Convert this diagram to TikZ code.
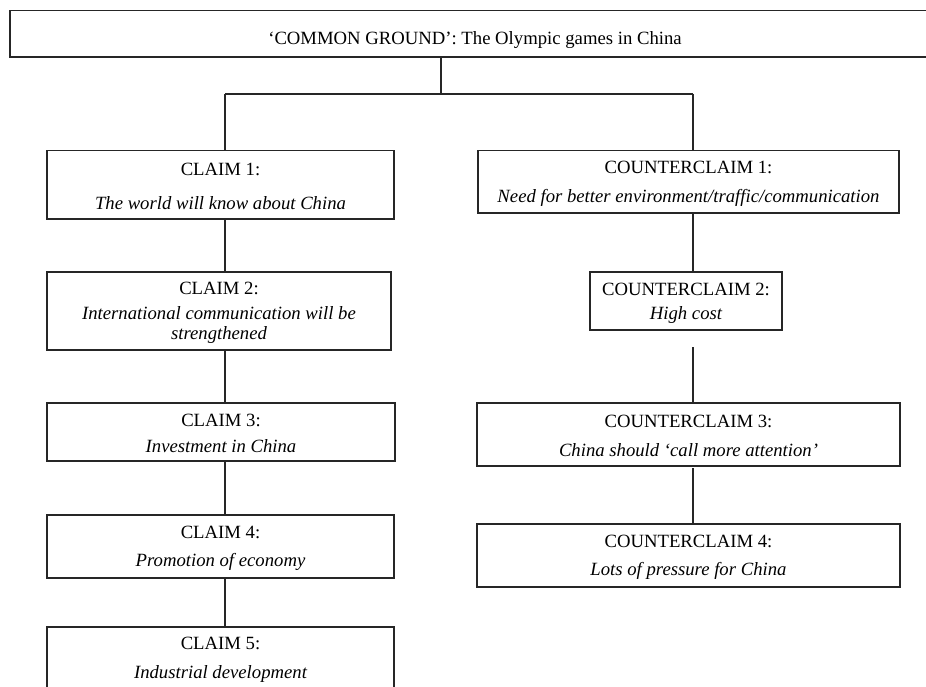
\documentclass[tikz,border=0pt]{standalone}
\usepackage{fontspec}
\setmainfont{Liberation Serif}
\newcommand\myupstrut{\rule{0pt}{16pt}}
\begin{document}
\begin{tikzpicture}[x=1pt,y=-1pt,
  box/.style={draw=black!85, line width=1.5pt, inner sep=0pt, align=center,
    font=\fontsize{18.7}{20}\selectfont},
  link/.style={draw=black!85, line width=1.5pt}]
\useasboundingbox (0,0) rectangle (926,687);
\clip (0,0) rectangle (926,687);
\fill[white] (0,0) rectangle (926,687);

% common ground
\node[box, minimum width=930pt, minimum height=46.5pt, text height=21pt, text depth=0pt] (top) at (475,33.75)
  {‘COMMON GROUND’: The Olympic games in China};

% claims
\node[box, minimum width=347pt, minimum height=68.5pt] (c1) at (220.5,184.75)
  {\myupstrut CLAIM 1:\\[14pt]\itshape The world will know about China};
\node[box, minimum width=344pt, minimum height=78pt] (c2) at (219,311)
  {\myupstrut CLAIM 2:\\[5pt]\itshape International communication will be\\\itshape strengthened};
\node[box, minimum width=348pt, minimum height=58pt] (c3) at (221,432)
  {\myupstrut CLAIM 3:\\[6pt]\itshape Investment in China};
\node[box, minimum width=347pt, minimum height=63pt] (c4) at (220.5,546.5)
  {\myupstrut CLAIM 4:\\[8pt]\itshape Promotion of economy};
\node[box, minimum width=347pt, minimum height=61pt] (c5) at (220.5,657.5)
  {\myupstrut CLAIM 5:\\[9pt]\itshape Industrial development};

% counterclaims
\node[box, minimum width=421pt, minimum height=62.3pt] (k1) at (688.5,181.85)
  {\myupstrut COUNTERCLAIM 1:\\[9pt]\itshape Need for better environment/traffic/communication};
\node[box, minimum width=192pt, minimum height=58pt] (k2) at (686,301)
  {\myupstrut COUNTERCLAIM 2:\\[4pt]\itshape High cost};
\node[box, minimum width=423pt, minimum height=63pt] (k3) at (688.5,434.5)
  {\myupstrut COUNTERCLAIM 3:\\[9pt]\itshape China should ‘call more attention’};
\node[box, minimum width=423pt, minimum height=63pt] (k4) at (688.5,555.5)
  {\myupstrut COUNTERCLAIM 4:\\[8pt]\itshape Lots of pressure for China};

% junction coordinates
\coordinate (jt) at (441,94);
\coordinate (jl) at (225,94);
\coordinate (jr) at (693,94);
\coordinate (g2) at (693,347);
\coordinate (g3) at (693,468);

% connectors
\draw[link] (top.south -| jt) -- (jt);
\draw[link] (jl) -- (jr);
\draw[link] (jl) -- (c1.north -| jl);
\draw[link] (jr) -- (k1.north -| jr);
\draw[link] (c1.south -| jl) -- (c2.north -| jl);
\draw[link] (c2.south -| jl) -- (c3.north -| jl);
\draw[link] (c3.south -| jl) -- (c4.north -| jl);
\draw[link] (c4.south -| jl) -- (c5.north -| jl);
\draw[link] (k1.south -| jr) -- (k2.north -| jr);
\draw[link] (g2) -- (k3.north -| jr);
\draw[link] (g3) -- (k4.north -| jr);
\end{tikzpicture}
\end{document}
